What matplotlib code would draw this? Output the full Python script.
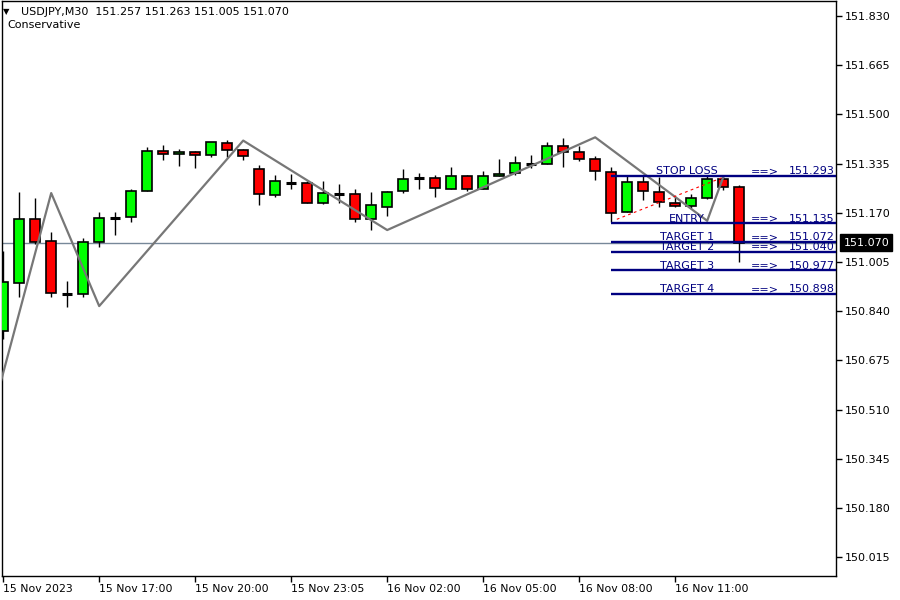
import matplotlib
matplotlib.use("Agg")
import matplotlib.pyplot as plt
from matplotlib.patches import Rectangle
import matplotlib.transforms as mtransforms

plt.rcParams['font.family'] = ['DejaVu Sans']

# ---------------- data ----------------
opens = [150.774, 150.934, 151.149, 151.075, 150.899, 150.898, 151.072, 151.153, 151.156, 151.243,
         151.377, 151.367, 151.374, 151.364, 151.404, 151.381, 151.317, 151.230, 151.270, 151.270,
         151.203, 151.233, 151.233, 151.149, 151.189, 151.243, 151.287, 151.287, 151.250, 151.293,
         151.250, 151.293, 151.303, 151.334, 151.334, 151.394, 151.374, 151.350, 151.307, 151.173,
         151.273, 151.240, 151.203, 151.193, 151.220, 151.283, 151.257]
highs = [151.042, 151.240, 151.220, 151.106, 150.941, 151.085, 151.173, 151.173, 151.250, 151.391,
         151.397, 151.384, 151.377, 151.407, 151.414, 151.384, 151.330, 151.297, 151.300, 151.277,
         151.277, 151.267, 151.250, 151.240, 151.243, 151.317, 151.303, 151.297, 151.324, 151.297,
         151.310, 151.350, 151.360, 151.364, 151.407, 151.421, 151.394, 151.360, 151.324, 151.293,
         151.293, 151.290, 151.223, 151.233, 151.293, 151.293, 151.263]
lows = [150.747, 150.888, 151.065, 150.888, 150.854, 150.888, 151.055, 151.096, 151.139, 151.243,
        151.347, 151.327, 151.320, 151.357, 151.357, 151.347, 151.196, 151.223, 151.250, 151.203,
        151.199, 151.203, 151.139, 151.112, 151.159, 151.236, 151.250, 151.223, 151.250, 151.243,
        151.250, 151.293, 151.297, 151.320, 151.334, 151.324, 151.344, 151.280, 151.139, 151.173,
        151.213, 151.189, 151.189, 151.186, 151.216, 151.246, 151.005]
closes = [150.938, 151.149, 151.072, 150.901, 150.900, 151.072, 151.153, 151.155, 151.243, 151.377,
          151.367, 151.374, 151.364, 151.407, 151.381, 151.360, 151.233, 151.277, 151.271, 151.203,
          151.236, 151.234, 151.149, 151.196, 151.240, 151.283, 151.288, 151.253, 151.293, 151.250,
          151.293, 151.300, 151.337, 151.335, 151.394, 151.374, 151.350, 151.310, 151.169, 151.273,
          151.243, 151.206, 151.193, 151.220, 151.283, 151.257, 151.070]

zz_idx = [-1, 3, 6, 15, 24, 37, 44, 45]
zz_price = [150.432, 151.236, 150.857, 151.412, 151.112, 151.423, 151.143, 151.289]

dash_idx = [38.35, 45]
dash_price = [151.148, 151.289]

level_names = ["STOP LOSS", "ENTRY", "TARGET 1", "TARGET 2", "TARGET 3", "TARGET 4"]
level_prices = [151.293, 151.135, 151.072, 151.040, 150.977, 150.898]
level_start = 38

current_price = 151.070

xtick_pos = [0, 6, 12, 18, 24, 30, 36, 42]
xtick_labels = ["15 Nov 2023", "15 Nov 17:00", "15 Nov 20:00", "15 Nov 23:05",
                "16 Nov 02:00", "16 Nov 05:00", "16 Nov 08:00", "16 Nov 11:00"]
ytick_labels = ["151.830", "151.665", "151.500", "151.335", "151.170", "151.005",
                "150.840", "150.675", "150.510", "150.345", "150.180", "150.015"]

title_text = "USDJPY,M30  151.257 151.263 151.005 151.070"
subtitle_text = "Conservative"

# ---------------- figure ----------------
W, H = 900, 600
fig = plt.figure(figsize=(9, 6), dpi=100)
fig.patch.set_facecolor("white")
ax = fig.add_axes([2 / W, 24 / H, 834 / W, 575 / H])
ax.set_facecolor("white")

ax.set_xlim(-0.075, 52.05)
ax.set_ylim(149.952, 151.880)

navy = "#000080"

# current price line (behind candles)
ax.axhline(current_price, color="#778899", lw=1.0, zorder=1)

bw = 0.62
for i, (o, h, l, c) in enumerate(zip(opens, highs, lows, closes)):
    ax.plot([i, i], [l, h], color="black", lw=1.0, zorder=2, solid_capstyle="butt")
    if abs(c - o) < 0.003:
        ax.plot([i - bw / 2, i + bw / 2], [o, o], color="black", lw=2.2, zorder=3,
                solid_capstyle="butt")
    else:
        col = "#00FF00" if c > o else "#FF0000"
        ax.add_patch(Rectangle((i - bw / 2, min(o, c)), bw, abs(c - o),
                               facecolor=col, edgecolor="black", lw=1.2, zorder=3))

# zigzag
ax.plot(zz_idx, zz_price, color="#777777", lw=1.6, zorder=5)
# dashed red
ax.plot(dash_idx, dash_price, color="#FF0000", lw=0.8, ls=(0, (2.5, 3)), zorder=5)

# levels
xr = ax.get_xlim()[1]
for name, p in zip(level_names, level_prices):
    ax.plot([level_start, xr], [p, p], color=navy, lw=1.7, zorder=6, solid_capstyle="butt")
    kw = dict(textcoords="offset points", xytext=(0, 1.2), va="baseline",
              color=navy, fontsize=8, zorder=7, annotation_clip=False)
    ax.annotate(name, (42.75, p), ha="center", **kw)
    ax.annotate("==>", (47.6, p), ha="center", **kw)
    ax.annotate(f"{p:.3f}", (51.98, p), ha="right", **kw)

# axes styling
for s in ax.spines.values():
    s.set_color("black")
    s.set_linewidth(1.0)

ax.yaxis.tick_right()
ax.set_yticks([float(t) for t in ytick_labels])
ax.set_yticklabels(ytick_labels)
ax.tick_params(axis="y", direction="out", length=4, width=1, pad=2.5,
               labelsize=8, colors="black")

ax.set_xticks(xtick_pos)
ax.set_xticklabels(xtick_labels, ha="left")
ax.tick_params(axis="x", direction="out", length=4, width=1, pad=2,
               labelsize=7.8, colors="black")

# current price box
trans = mtransforms.blended_transform_factory(ax.transAxes, ax.transData)
ax.text(1.0088, current_price, f"{current_price:.3f}", transform=trans,
        color="white", fontsize=8, va="center", ha="left", zorder=10, clip_on=False,
        bbox=dict(boxstyle="square,pad=0.28", fc="black", ec="black"))

# title
fig.text(3 / W, 1 - 12 / H, "▼", fontsize=6, va="center", ha="left", color="black")
fig.text(21 / W, 1 - 12 / H, title_text, fontsize=8, va="center", ha="left", color="black")
fig.text(7 / W, 1 - 25 / H, subtitle_text, fontsize=8, va="center", ha="left", color="black")

fig.savefig("out.png", dpi=100, facecolor="white")
